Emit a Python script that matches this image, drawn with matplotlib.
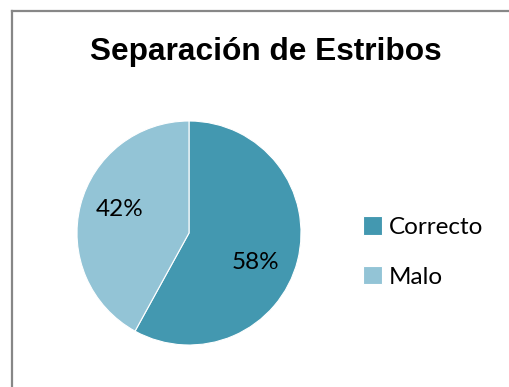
import matplotlib
matplotlib.use('Agg')
import matplotlib.pyplot as plt
from matplotlib.lines import Line2D

# Datos del grafico
categorias = ['Correcto', 'Malo']
porcentajes = [58, 42]
colores = ['#4398B0', '#93C4D6']
titulo = 'Separación de Estribos'

W, H = 509, 387
fig = plt.figure(figsize=(W / 100, H / 100), dpi=100)
fig.patch.set_facecolor('white')

# marco del area del grafico (solo se ven los bordes superior e izquierdo)
fig.add_artist(Line2D([12 / W, 12 / W], [0, 1 - 11 / H], color='#878787', lw=1.6,
                      transform=fig.transFigure))
fig.add_artist(Line2D([12 / W, 1], [1 - 11 / H, 1 - 11 / H], color='#878787', lw=1.6,
                      transform=fig.transFigure))

fig.text(266 / W, 1 - 52 / H, titulo, ha='center', va='center',
         fontsize=22.8, fontweight='bold', family='Liberation Sans')

# pastel centrado en (189, 233) px con radio 112 px
cx, cy, r = 189, 233, 112
ax = fig.add_axes([(cx - r) / W, (H - cy - r) / H, 2 * r / W, 2 * r / H])
wedges, _, autotexts = ax.pie(porcentajes, colors=colores, startangle=90,
                              counterclock=False, autopct='%1.0f%%',
                              wedgeprops=dict(edgecolor='white', linewidth=0.8),
                              textprops=dict(fontsize=17.5, family='Lato', color='black'))
ax.set_aspect('equal')
ax.set_xlim(-1, 1)
ax.set_ylim(-1, 1)

# posiciones de las etiquetas de porcentaje
posiciones = [(0.59, -0.26), (-0.62, 0.21)]
for t, p in zip(autotexts, posiciones):
    t.set_position(p)
    t.set_ha('center')
    t.set_va('center')

fig.legend(wedges, categorias, loc='center left',
           bbox_to_anchor=(353 / W, 1 - 252 / H), frameon=False,
           prop=dict(family='Lato', size=17.5), handlelength=0.78, handleheight=0.78,
           handletextpad=0.3, labelspacing=1.15, borderaxespad=0)

fig.savefig('out.png', dpi=100)
